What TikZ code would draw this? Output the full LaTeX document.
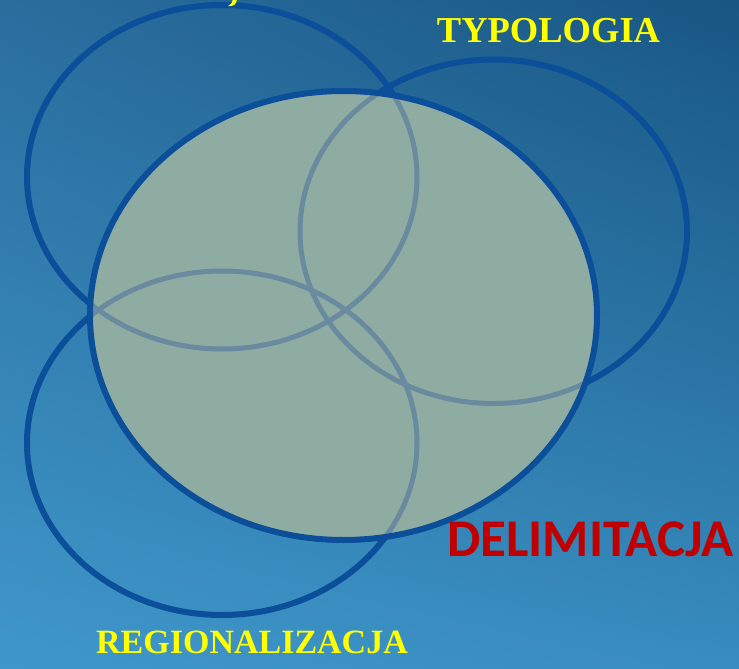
\documentclass[tikz,border=0pt]{standalone}
\usepackage{fontspec}
\usetikzlibrary{shadings}
\newfontfamily\labserif{Liberation Serif}
\newfontfamily\labsans{Carlito}
\definecolor{bgTL}{HTML}{2A6E9E}
\definecolor{bgTR}{HTML}{185683}
\definecolor{bgBL}{HTML}{3F97CA}
\definecolor{bgBR}{HTML}{388CBF}
\definecolor{ringblue}{HTML}{0B4E9A}
\definecolor{ringgrey}{HTML}{6A8AA0}
\definecolor{corefill}{HTML}{8FACA3}
\definecolor{labyellow}{HTML}{FFFF00}
\definecolor{labred}{HTML}{C00000}
\tikzset{
  ring/.style={draw=ringblue, line width=6pt},
  ringin/.style={draw=ringgrey, line width=5pt},
  yellowlab/.style={text=labyellow, font=\labserif\bfseries, inner sep=0pt, anchor=base},
  redlab/.style={text=labred, font=\labsans\bfseries, inner sep=0pt, anchor=base},
}
\begin{document}
\begin{tikzpicture}[x=1pt,y=-1pt]
\useasboundingbox (0,0) rectangle (739,669);
\shade[upper left=bgTL, upper right=bgTR, lower left=bgBL, lower right=bgBR] (0,0) rectangle (739,669);
% outer rings
\draw[ring] (222,177) ellipse [x radius=195, y radius=172];
\draw[ring] (493.5,231.5) ellipse [x radius=193.5, y radius=172];
\draw[ring] (222,443) ellipse [x radius=195, y radius=172];
% central ellipse
\fill[corefill] (343.5,315.5) ellipse [x radius=253.5, y radius=224.5];
\begin{scope}
  \clip (343.5,315.5) ellipse [x radius=253.5, y radius=224.5];
  \draw[ringin] (222,177) ellipse [x radius=195, y radius=172];
  \draw[ringin] (493.5,231.5) ellipse [x radius=193.5, y radius=172];
  \draw[ringin] (222,443) ellipse [x radius=195, y radius=172];
\end{scope}
\draw[ring] (343.5,315.5) ellipse [x radius=253.5, y radius=224.5];
% labels
\node[yellowlab, font=\labserif\bfseries\fontsize{36.5}{40}\selectfont] (typ) at (548.5,43) {TYPOLOGIA};
\node[yellowlab, font=\labserif\bfseries\fontsize{34}{38}\selectfont] (reg) at (252,653) {REGIONALIZACJA};
\node[redlab, font=\labsans\bfseries\fontsize{53}{58}\selectfont] (del) at (590.5,556) {DELIMITACJA};
% fragment of a cut-off label at the top edge
\fill[labyellow] (237,-1) .. controls (237,4) and (233,7) .. (228,6) .. controls (231,4) and (233,2) .. (233,-1) -- cycle;
\end{tikzpicture}
\end{document}
